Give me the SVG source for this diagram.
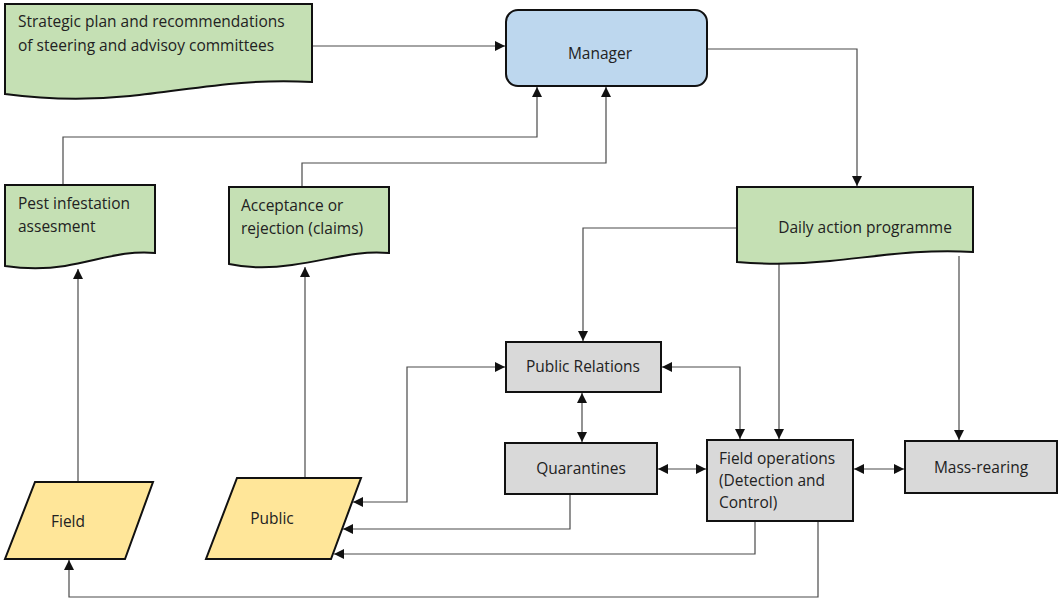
<svg xmlns="http://www.w3.org/2000/svg" width="1059" height="598" viewBox="0 0 1059 598">
<style>
.doc{fill:#c5e0b4;stroke:#111;stroke-width:2}
.mgr{fill:#bdd7ee;stroke:#111;stroke-width:2}
.io{fill:#ffe699;stroke:#111;stroke-width:2}
.box{fill:#d9d9d9;stroke:#111;stroke-width:2}
.t{font-family:"Open Sans","Liberation Sans",sans-serif;font-size:15.5px;fill:#222}
.c{fill:none;stroke:#4a4a4a;stroke-width:1.2}
</style>
<defs>
<marker id="ah" viewBox="0 0 10 10" refX="10" refY="5" markerWidth="10" markerHeight="10" markerUnits="userSpaceOnUse" orient="auto-start-reverse">
<path d="M0,0 L10,5 L0,10 Z" fill="#111"/>
</marker>
</defs>
<g id="connectors">
<path class="c" d="M312,46 H505" marker-end="url(#ah)"/>
<path class="c" d="M63,185 V137 H537 V87" marker-end="url(#ah)"/>
<path class="c" d="M302,187 V163 H606 V87" marker-end="url(#ah)"/>
<path class="c" d="M707,49 H857 V186" marker-end="url(#ah)"/>
<path class="c" d="M78,482 V269" marker-end="url(#ah)"/>
<path class="c" d="M305,478 V267" marker-end="url(#ah)"/>
<path class="c" d="M737,228 H583 V341" marker-end="url(#ah)"/>
<path class="c" d="M779,262 V439" marker-end="url(#ah)"/>
<path class="c" d="M959,256 V440" marker-end="url(#ah)"/>
<path class="c" d="M662,367 H740 V439" marker-start="url(#ah)" marker-end="url(#ah)"/>
<path class="c" d="M582,393 V442" marker-start="url(#ah)" marker-end="url(#ah)"/>
<path class="c" d="M658,469 H706" marker-start="url(#ah)" marker-end="url(#ah)"/>
<path class="c" d="M854,469 H904" marker-start="url(#ah)" marker-end="url(#ah)"/>
<path class="c" d="M353,502 H407 V367 H505" marker-start="url(#ah)" marker-end="url(#ah)"/>
<path class="c" d="M570,495 V529 H343" marker-end="url(#ah)"/>
<path class="c" d="M755,522 V554 H334" marker-end="url(#ah)"/>
<path class="c" d="M818,522 V597 H69 V560" marker-end="url(#ah)"/>
</g>
<g id="strategic">
<path class="doc" d="M5,4 H312 V82 C240,78 190,90 130,96 C80,101 35,98 5,94 Z"/>
<text class="t" x="18" y="27">Strategic plan and recommendations</text>
<text class="t" x="18" y="51">of steering and advisoy committees</text>
</g>
<g id="manager">
<rect class="mgr" x="506" y="10" width="201" height="76" rx="12"/>
<text class="t" x="600" y="59" text-anchor="middle">Manager</text>
</g>
<g id="pest">
<path class="doc" d="M5,185 H155 V253 C125,250 100,260 65,266 C40,270 18,268 5,266 Z"/>
<text class="t" x="18" y="209">Pest infestation</text>
<text class="t" x="18" y="232">assesment</text>
</g>
<g id="acceptance">
<path class="doc" d="M229,187 H389 V253 C355,250 330,260 292,265 C265,269 243,267 229,264 Z"/>
<text class="t" x="241" y="211">Acceptance or</text>
<text class="t" x="241" y="234">rejection (claims)</text>
</g>
<g id="daily">
<path class="doc" d="M737,187 H973 V252 C920,249 880,256 830,261 C790,265 760,264 737,262 Z"/>
<text class="t" x="865" y="233" text-anchor="middle">Daily action programme</text>
</g>
<g id="field">
<path class="io" d="M35,482 H153 L125,559 H5 Z"/>
<text class="t" x="68" y="527" text-anchor="middle">Field</text>
</g>
<g id="public">
<path class="io" d="M237,478 H361 L331,559 H206 Z"/>
<text class="t" x="272" y="524" text-anchor="middle">Public</text>
</g>
<g id="public-relations">
<rect class="box" x="506" y="342" width="155" height="50"/>
<text class="t" x="583" y="372" text-anchor="middle">Public Relations</text>
</g>
<g id="quarantines">
<rect class="box" x="505" y="443" width="152" height="51"/>
<text class="t" x="581" y="474" text-anchor="middle">Quarantines</text>
</g>
<g id="field-operations">
<rect class="box" x="707" y="440" width="146" height="81"/>
<text class="t" x="719" y="464">Field operations</text>
<text class="t" x="719" y="486">(Detection and</text>
<text class="t" x="719" y="508">Control)</text>
</g>
<g id="mass-rearing">
<rect class="box" x="905" y="441" width="152" height="52"/>
<text class="t" x="981" y="473" text-anchor="middle">Mass-rearing</text>
</g>
</svg>
